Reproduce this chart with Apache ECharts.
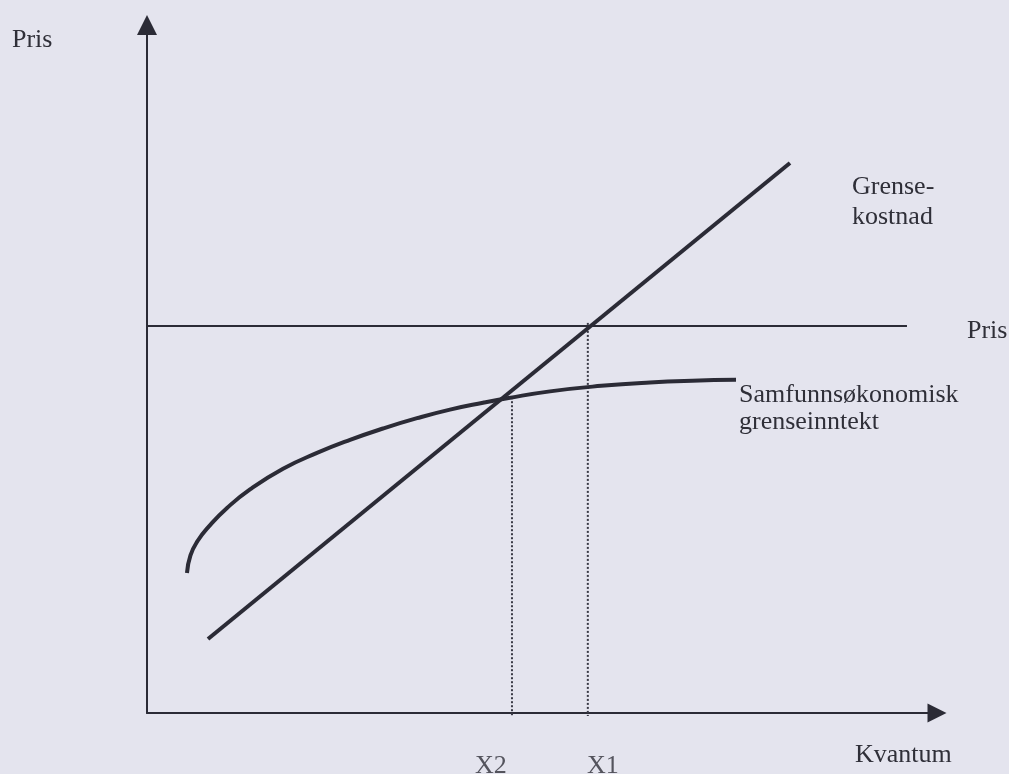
<!DOCTYPE html>
<html>
<head>
<meta charset="utf-8">
<script src="https://cdn.jsdelivr.net/npm/echarts@6/dist/echarts.min.js"></script>
<style>
  html, body { margin: 0; padding: 0; background: #e4e4ee; }
  #chart { width: 1009px; height: 774px; }
</style>
</head>
<body>
<div id="chart"></div>
<script>
// Marginal cost line (Grensekostnad)
const mcX = [7.72, 81.39];
const mcY = [10.76, 79.94];
// Price level line (Pris)
const priceLevel = 56.25;
const priceX = [0, 96.2];
// Social marginal revenue curve (Samfunnsøkonomisk grenseinntekt)
const revenueX = [5.06, 5.5, 6.4, 7.9, 10.13, 13.04, 17.22, 21.52, 25.70, 29.87, 34.18, 38.35, 42.53, 45.6, 51.01, 57.5, 63.67, 69.0, 74.56];
const revenueY = [20.35, 22.9, 25.0, 27.2, 29.8, 32.5, 35.5, 37.8, 39.7, 41.35, 42.85, 44.1, 45.1, 45.75, 46.75, 47.55, 48.05, 48.3, 48.42];
// Quantity markers X2, X1
const tickLabels = ['X2', 'X1'];
const tickValues = [46.2, 55.8];
const dropTops = [45.9, 56.7];
const dropBottom = -0.44;

const ink = '#2b2b36';
const textColor = '#2f2f38';
const font = '"Liberation Serif", "Times New Roman", serif';

const chart = echarts.init(document.getElementById('chart'), null, { renderer: 'canvas' });

const pairs = (xs, ys) => xs.map((x, i) => [x, ys[i]]);

const dropSeries = tickValues.map((x, i) => ({
  type: 'line',
  name: 'drop-' + tickLabels[i],
  data: [[x, dropTops[i]], [x, dropBottom]],
  symbol: 'none',
  clip: false,
  lineStyle: { color: '#3a3a46', width: 2, type: [2, 2] },
  z: 1
}));

const labelOffsets = [[-21, 53], [15, 53]];

const option = {
  backgroundColor: '#e4e4ee',
  animation: false,
  grid: { left: 147, top: 25, right: 72, bottom: 61 },
  xAxis: {
    type: 'value', min: 0, max: 100,
    axisLine: { show: true, symbol: ['none', 'triangle'], symbolSize: [19, 19], lineStyle: { color: ink, width: 2 } },
    axisTick: { show: false }, axisLabel: { show: false }, splitLine: { show: false }
  },
  yAxis: {
    type: 'value', min: 0, max: 100,
    axisLine: { show: true, symbol: ['none', 'triangle'], symbolSize: [20, 20], lineStyle: { color: ink, width: 2 } },
    axisTick: { show: false }, axisLabel: { show: false }, splitLine: { show: false }
  },
  series: [
    {
      type: 'line', name: 'Pris',
      data: priceX.map(x => [x, priceLevel]),
      symbol: 'none',
      lineStyle: { color: ink, width: 2 }, z: 2
    },
    {
      type: 'line', name: 'Grensekostnad',
      data: pairs(mcX, mcY),
      symbol: 'none',
      lineStyle: { color: ink, width: 4, cap: 'butt' }, z: 3
    },
    {
      type: 'line', name: 'Samfunnsøkonomisk grenseinntekt',
      data: pairs(revenueX, revenueY),
      symbol: 'none', smooth: 0.5,
      lineStyle: { color: ink, width: 4, cap: 'butt', join: 'round' }, z: 3
    },
    ...dropSeries,
    {
      type: 'scatter', name: 'ticks',
      data: tickValues.map((x, i) => ({
        value: [x, 0], name: tickLabels[i],
        label: { offset: labelOffsets[i] }
      })),
      symbolSize: 1,
      itemStyle: { color: 'transparent' },
      label: {
        show: true, position: 'inside', formatter: p => p.name,
        color: textColor, fontFamily: font, fontSize: 26
      },
      silent: true, z: 5
    }
  ],
  graphic: [
    { type: 'text', style: { text: 'Pris', x: 12, y: 40, verticalAlign: 'middle', font: '26px ' + font, fill: textColor } },
    { type: 'text', style: { text: 'Grense-\nkostnad', x: 852, y: 202, lineHeight: 30, verticalAlign: 'middle', font: '26px ' + font, fill: textColor } },
    { type: 'text', style: { text: 'Pris', x: 967, y: 331, verticalAlign: 'middle', font: '26px ' + font, fill: textColor } },
    { type: 'text', style: { text: 'Samfunnsøkonomisk\ngrenseinntekt', x: 739, y: 409, lineHeight: 27, verticalAlign: 'middle', font: '26px ' + font, fill: textColor } },
    { type: 'text', style: { text: 'Kvantum', x: 855, y: 755, verticalAlign: 'middle', font: '26px ' + font, fill: textColor } }
  ]
};

chart.setOption(option);
</script>
</body>
</html>
